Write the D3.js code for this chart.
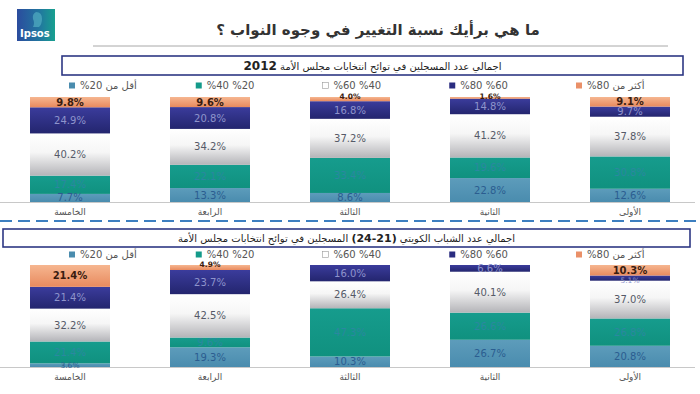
<!DOCTYPE html>
<html>
<head>
<meta charset="utf-8">
<script src="https://cdn.jsdelivr.net/npm/d3@7"></script>
<style>
  body { margin: 0; background: #fff; }
  svg { display: block; font-family: "DejaVu Sans", sans-serif; }
</style>
</head>
<body>
<svg id="chart" width="700" height="394"></svg>
<script>
// categories, left to right as in the picture
var categories = ['الخامسة', 'الرابعة', 'الثالثة', 'الثانية', 'الأولى'];
var seriesNames = ['أقل من 20%', '%20 %40', '%40 %60', '%60 %80', 'أكثر من 80%'];

// panel 1 : 2012 (bottom segment first)
var top_below20 = [7.7, 13.3, 8.6, 22.8, 12.6];
var top_20_40   = [17.4, 22.1, 33.4, 19.6, 30.8];
var top_40_60   = [40.2, 34.2, 37.2, 41.2, 37.8];
var top_60_80   = [24.9, 20.8, 16.8, 14.8, 9.7];
var top_above80 = [9.8, 9.6, 4.0, 1.6, 9.1];

// panel 2 : youth 21-24
var bot_below20 = [3.6, 19.3, 10.3, 26.7, 20.8];
var bot_20_40   = [21.4, 9.6, 47.3, 26.6, 26.8];
var bot_40_60   = [32.2, 42.5, 26.4, 40.1, 37.0];
var bot_60_80   = [21.4, 23.7, 16.0, 6.6, 5.1];
var bot_above80 = [21.4, 4.9, 0, 0, 10.3];

var titleText = 'ما هي برأيك نسبة التغيير في وجوه النواب ؟';
var box1Text = 'اجمالي عدد المسجلين في توائح انتخابات مجلس الأمة ';
var box1Bold = '2012';
var box2Before = 'اجمالي عدد الشباب الكويتي ';
var box2Bold = '(21-24)';
var box2After = ' المسجلين في توائح انتخابات مجلس الأمة';

var svg = d3.select('#chart');
var defs = svg.append('defs');

function vgrad(id, stops) {
    var g = defs.append('linearGradient').attr('id', id)
        .attr('x1', 0).attr('y1', 0).attr('x2', 0).attr('y2', 1);
    stops.forEach(function (s) {
        g.append('stop').attr('offset', s[0]).attr('stop-color', s[1]);
    });
}
vgrad('g0', [[0, '#5d9cbb'], [1, '#4a8cae']]);
vgrad('g1', [[0, '#169c8d'], [1, '#10917f']]);
vgrad('g2', [[0, '#ffffff'], [0.45, '#f6f6f6'], [1, '#b4b4b8']]);
vgrad('g3', [[0, '#3b3c9c'], [1, '#23256e']]);
vgrad('g4', [[0, '#f6b690'], [1, '#e88a5e']]);

var fills = ['url(#g0)', 'url(#g1)', 'url(#g2)', 'url(#g3)', 'url(#g4)'];
var legendFills = ['#4a8cae', '#149a8a', '#ffffff', '#2a2c80', '#ea9068'];
var labelColors = ['#2b5d90', '#2a88a0', '#555a68', '#8e94cc', '#3a1c10'];

// logo
var lg = defs.append('linearGradient').attr('id', 'logo')
    .attr('x1', 0).attr('y1', 0).attr('x2', 1).attr('y2', 0);
lg.append('stop').attr('offset', 0).attr('stop-color', '#2b4c9e');
lg.append('stop').attr('offset', 0.6).attr('stop-color', '#21779f');
lg.append('stop').attr('offset', 1).attr('stop-color', '#18a08f');
svg.append('rect').attr('x', 17).attr('y', 9).attr('width', 38).attr('height', 32)
    .attr('fill', 'url(#logo)');
svg.append('path').attr('d', 'M36,12 q6,0 6,7 q0,5 -3,8 l-6,0 q2,-4 0,-8 q-1,-5 3,-7z')
    .attr('fill', '#5ab8c8').attr('opacity', 0.6);
svg.append('text').attr('x', 20).attr('y', 37).attr('fill', '#fff')
    .attr('font-size', 10).attr('font-weight', 'bold').text('Ipsos');

// title
svg.append('text').attr('x', 378).attr('y', 35).attr('text-anchor', 'middle')
    .attr('direction', 'rtl').attr('font-size', 15).attr('font-weight', 'bold')
    .attr('fill', '#333').text(titleText);
svg.append('line').attr('x1', 93).attr('x2', 668).attr('y1', 46).attr('y2', 46)
    .attr('stroke', '#a8a8a8').attr('stroke-width', 1);

// dashed separator
svg.append('line').attr('x1', 0).attr('x2', 700).attr('y1', 221).attr('y2', 221)
    .attr('stroke', '#3d7fc0').attr('stroke-width', 2).attr('stroke-dasharray', '12,6');

var x = d3.scaleBand().domain(categories).range([0, 700])
    .paddingInner(0.4286).paddingOuter(0.2143);
var legendX = d3.scaleLinear().domain([0, 4]).range([69, 576]);

function drawPanel(p) {
    var g = svg.append('g');

    // heading box
    g.append('rect').attr('x', p.box[0]).attr('y', p.box[1])
        .attr('width', p.box[2]).attr('height', p.box[3])
        .attr('fill', '#fff').attr('stroke', '#2d3784').attr('stroke-width', 1.6);
    var t = g.append('text').attr('x', p.box[0] + p.box[2] / 2).attr('y', p.box[1] + p.box[3] / 2 + 4)
        .attr('text-anchor', 'middle').attr('direction', 'rtl')
        .attr('font-size', 10).attr('fill', '#222');
    p.heading(t);

    // legend
    seriesNames.forEach(function (name, i) {
        var lx = legendX(i);
        g.append('rect').attr('x', lx).attr('y', p.legendY - 6).attr('width', 6).attr('height', 6)
            .attr('fill', legendFills[i])
            .attr('stroke', i == 2 ? '#999' : 'none').attr('stroke-width', 0.6);
        var lt = g.append('text').attr('x', lx + 11).attr('y', p.legendY)
            .attr('direction', 'rtl').attr('text-anchor', 'middle')
            .attr('font-size', 10).attr('fill', '#555').text(name);
        var bb = lt.node().getBBox();
        lt.attr('x', lx + 11 + (lx + 11 - bb.x));
    });

    var y = d3.scaleLinear().domain([0, 100]).range([p.base, p.top]);

    // baseline
    g.append('line').attr('x1', 0).attr('x2', 695).attr('y1', p.base + 0.5).attr('y2', p.base + 0.5)
        .attr('stroke', '#c8c8c8').attr('stroke-width', 1.2);

    var rows = categories.map(function (c, i) {
        var r = { cat: c };
        p.series.forEach(function (s, k) { r['s' + k] = s[i]; });
        return r;
    });
    var stack = d3.stack().keys(['s0', 's1', 's2', 's3', 's4'])(rows);

    var layer = g.selectAll('.layer').data(stack).enter().append('g')
        .attr('fill', function (d, k) { return fills[k]; });
    layer.selectAll('rect').data(function (d) { return d; }).enter().append('rect')
        .attr('x', function (d) { return x(d.data.cat); })
        .attr('width', x.bandwidth())
        .attr('y', function (d) { return y(d[1]); })
        .attr('height', function (d) { return y(d[0]) - y(d[1]); });

    // thin segments get a smaller label, nudged so they don't sit on the neighbour
    stack.forEach(function (s, k) {
        g.selectAll('.lab' + k).data(s.filter(function (d) { return d[1] - d[0] > 0; }))
            .enter().append('text')
            .attr('x', function (d) { return x(d.data.cat) + x.bandwidth() / 2; })
            .attr('y', function (d) {
                var mid = (y(d[0]) + y(d[1])) / 2;
                if (d[1] - d[0] >= 6) return mid + 3.5;
                if (k == 4) return y(d[1]) + 1.5;
                if (k == 3) return mid + 5;
                return mid + 3;
            })
            .attr('text-anchor', 'middle')
            .attr('font-size', function (d) { return d[1] - d[0] < 6 ? 7.5 : 10; })
            .attr('font-weight', k == 4 ? 'bold' : 'normal')
            .attr('fill', labelColors[k])
            .text(function (d) { return (d[1] - d[0]).toFixed(1) + '%'; });
    });

    // category labels
    g.selectAll('.cat').data(categories).enter().append('text')
        .attr('x', function (d) { return x(d) + x.bandwidth() / 2; })
        .attr('y', p.base + 13)
        .attr('text-anchor', 'middle').attr('direction', 'rtl')
        .attr('font-size', 9).attr('fill', '#555')
        .text(function (d) { return d; });
}

drawPanel({
    box: [62, 56, 621, 19],
    heading: function (t) {
        t.append('tspan').text(box1Text);
        t.append('tspan').attr('font-weight', 'bold').attr('font-size', 12).text(box1Bold);
    },
    legendY: 88.5,
    top: 97,
    base: 202,
    series: [top_below20, top_20_40, top_40_60, top_60_80, top_above80]
});

drawPanel({
    box: [3, 229, 687, 18],
    heading: function (t) {
        t.append('tspan').text(box2Before);
        t.append('tspan').attr('font-weight', 'bold').attr('font-size', 11).text(box2Bold);
        t.append('tspan').text(box2After);
    },
    legendY: 257.5,
    top: 265,
    base: 367,
    series: [bot_below20, bot_20_40, bot_40_60, bot_60_80, bot_above80]
});
</script>
</body>
</html>
